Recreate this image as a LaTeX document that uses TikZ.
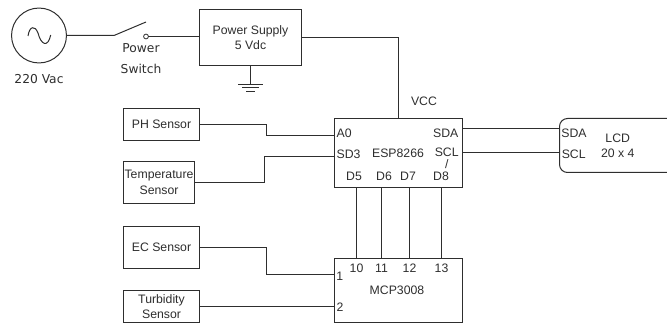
\documentclass[tikz,border=0pt]{standalone}
\usepackage{fontspec}
\setmainfont{Liberation Sans}
\newfontfamily\wideface{DejaVu Sans}
\usetikzlibrary{calc,positioning}
\definecolor{inkgray}{HTML}{2E2E2E}
\tikzset{box/.style={draw=inkgray,line width=0.75pt,align=center,inner sep=0pt,outer sep=0pt,text=inkgray,font=\fontsize{9.2}{11.5}\selectfont},
  wire/.style={draw=inkgray,line width=0.75pt},
  pin/.style={inner sep=0pt,outer sep=0pt,text=inkgray,font=\fontsize{9.2}{11.5}\selectfont},
  widepin/.style={pin,font=\wideface\fontsize{9.2}{15.5}\selectfont,align=center}}

\begin{document}
\begin{tikzpicture}[x=0.75pt,y=-0.75pt]
\path[use as bounding box,clip] (0,0) rectangle (667,324);
% mains side
\node[draw=inkgray,line width=0.75pt,circle,minimum size=41.2pt,inner sep=0pt,outer sep=0pt] (ac) at (39,35.5){};
\draw[wire] (28,36) .. controls (29.5,26) and (35,25) .. (38,33) .. controls (41,45) and (48,48) .. (50.7,35);
\node[widepin] (vac) at (39,79){220 Vac};
\coordinate (swa) at (114,35.5); \coordinate (swtip) at (146,22);
\node[draw=inkgray,line width=0.6pt,circle,minimum size=3.6pt,inner sep=0pt,outer sep=0pt] (swb) at (146,36.5){};
\node[widepin] (swlabel) at (141,58.5){Power\\Switch};
\node[box,minimum width=76.5pt,minimum height=42pt] (psu) at (250.5,37.5){Power Supply\\5 Vdc};
\draw[wire] (ac.east)--(swa)--(swtip);
\draw[wire] (swb)--(psu.west |- swb);
% ground
\coordinate (gnd) at (250.5,84.5);
\draw[wire] (psu.south)--(gnd);
\draw[wire] ($(gnd)+(-12.5,0)$)--($(gnd)+(12.5,0)$);
\draw[wire] ($(gnd)+(-8.5,3)$)--($(gnd)+(8.5,3)$);
\draw[wire] ($(gnd)+(-4.5,7)$)--($(gnd)+(4.5,7)$);
% sensors
\node[box,minimum width=57pt,minimum height=24pt] (ph) at (161.5,124.5){PH Sensor};
\node[box,minimum width=53.25pt,minimum height=31.5pt] (temp) at (159,182.5){Temperature\\Sensor};
\node[box,minimum width=57pt,minimum height=31.5pt] (ec) at (161.5,247.5){EC Sensor};
\node[box,minimum width=57pt,minimum height=24pt] (turb) at (161.5,306.5){Turbidity\\Sensor};
% chips
\node[box,minimum width=96pt,minimum height=51.75pt] (esp) at (398.5,153){};
\node[box,minimum width=96pt,minimum height=48pt] (mcp) at (398.5,290.5){};
\node[box,rounded corners=6pt,minimum width=90pt,minimum height=40.5pt] (lcd) at (619.5,145.5){};
\node[pin] (vcc) at (424,101){VCC};
\node[pin,anchor=west] (a0) at (336.7,133){A0};
\node[pin,anchor=west] (sd3) at (336.7,154){SD3};
\node[pin] (espname) at (398,153.4){ESP8266};
\node[pin] (sda) at (445.7,133){SDA};
\node[pin] (scl) at (446.7,152){SCL};
\node[pin] (slash) at (446.7,164){/};
\foreach \pname/\px/\ptext in {d5/354/D5,d6/384/D6,d7/408/D7,d8/441/D8}
  \node[pin] (\pname) at (\px,176){\ptext};
\foreach \pname/\px in {10/356.5,11/381.5,12/409.5,13/441.5}
  \node[pin] (pin\pname) at (\px,268){\pname};
\node[pin] (mcpname) at (397,290){MCP3008};
\node[pin] (ch1) at (339.7,276){1};
\node[pin] (ch2) at (340,307.7){2};
\node[pin] (lsda) at (574,133){SDA};
\node[pin] (lscl) at (573.7,154){SCL};
\node[pin,align=center] (lcdname) at (617.7,146){LCD\\20 x 4};
% wiring
\draw[wire] (psu.east) -| (esp.north);
\draw[wire] (ph.east) -| (266.5,135.5) -- (esp.west |- 0,135.5);
\draw[wire] (temp.east) -| (264.5,156.5) -- (esp.west |- 0,156.5);
\draw[wire] (ec.east) -| (266.5,274.5) -- (mcp.west |- 0,274.5);
\draw[wire] (turb.east) -- (mcp.west |- turb.east);
\foreach \pname in {10,11,12,13}
  \draw[wire] (esp.south -| pin\pname) -- (mcp.north -| pin\pname);
\draw[wire] (esp.east |- 0,128.5) -- (lcd.west |- 0,128.5);
\draw[wire] (esp.east |- 0,152.5) -- (lcd.west |- 0,152.5);
\end{tikzpicture}
\end{document}
